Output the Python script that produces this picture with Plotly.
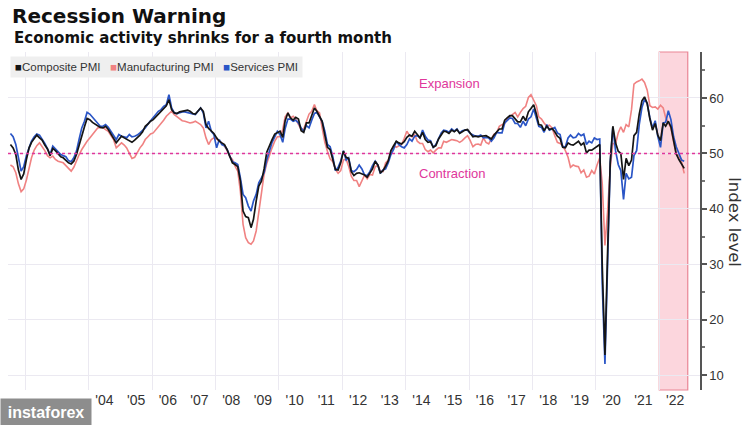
import pandas as pd
import plotly.graph_objects as go

# ---- data (monthly, Jul 2001 - Oct 2022) ----
start_month = "2001-07-01"

composite_pmi = [
    51.6, 51.0, 49.8, 47.0, 45.3, 46.3,
    48.9, 51.0, 52.0, 52.6, 53.3, 52.8, 52.4, 51.5, 50.8, 49.6, 50.9, 50.5,
    50.0, 49.4, 49.2, 48.8, 48.3, 48.1, 48.6, 49.8, 51.6, 53.2, 54.8, 56.3,
    56.1, 55.6, 55.3, 55.0, 54.7, 54.6, 54.9, 54.3, 53.4, 52.8, 51.9, 52.5,
    53.1, 52.8, 52.5, 52.2, 52.0, 52.4, 52.8, 53.3, 53.9, 54.9, 55.3, 55.8,
    56.1, 56.6, 57.2, 57.6, 58.2, 58.6, 59.7, 57.9, 57.3, 57.2, 57.5, 57.6,
    57.6, 57.8, 57.6, 57.2, 57.1, 57.6, 58.2, 57.6, 55.2, 54.5, 54.0, 53.6,
    52.8, 52.2, 51.9, 51.6, 50.7, 49.6, 48.3, 48.0, 47.6, 45.0, 39.6, 38.6,
    38.4, 36.6, 38.1, 41.4, 44.1, 45.0, 47.2, 50.2, 51.5, 52.5, 53.5, 53.8,
    54.0, 52.9, 55.9, 57.3, 56.4, 56.0, 56.5, 56.2, 54.1, 53.8, 55.5, 55.5,
    57.0, 58.2, 57.6, 56.7, 55.8, 53.3, 51.1, 50.7, 49.1, 47.1, 47.0, 48.3,
    50.4, 49.3, 49.1, 46.7, 46.0, 46.4, 46.5, 46.3, 46.1, 45.7, 46.5, 47.2,
    48.6, 47.9, 46.5, 46.9, 47.7, 48.7, 50.5, 51.5, 52.2, 51.9, 51.7, 52.1,
    52.9, 53.3, 53.1, 54.0, 53.5, 52.8, 53.8, 52.5, 52.0, 52.1, 51.1, 51.4,
    52.6, 53.3, 54.0, 53.9, 53.6, 54.2, 53.9, 54.3, 53.6, 53.9, 54.2, 54.3,
    53.6, 53.0, 53.1, 53.0, 53.1, 53.1, 53.2, 52.9, 52.6, 53.3, 53.9, 54.4,
    54.4, 56.0, 56.4, 56.8, 56.8, 56.3, 55.7, 55.7, 56.7, 55.9, 57.5, 58.1,
    58.8, 57.1, 55.2, 55.1, 54.1, 54.9, 54.3, 54.5, 53.9, 53.1, 52.7, 51.1,
    51.0, 51.9, 51.6, 51.5, 51.8, 52.2, 51.5, 51.9, 50.1, 50.6, 50.6, 50.9,
    51.3, 51.6, 29.7, 13.6, 31.9, 48.5, 54.9, 51.9, 50.4, 50.0, 45.3, 49.1,
    47.8, 48.8, 53.2, 53.8, 57.1, 59.5, 60.2, 59.0, 56.2, 54.2, 55.4, 53.3,
    52.3, 55.5, 54.9, 55.8, 54.8, 52.0, 49.9, 48.9, 48.1, 47.3,
]

manufacturing_pmi = [
    47.9, 47.6, 46.5, 44.5, 43.1, 43.6,
    45.2, 47.4, 49.2, 50.6, 51.4, 51.9, 51.3, 50.5, 49.6, 49.2, 49.5, 48.9,
    48.6, 48.5, 48.3, 47.8, 47.3, 46.8, 47.5, 48.8, 49.8, 50.7, 51.5, 52.2,
    52.8, 53.4, 54.0, 54.6, 54.7, 54.7, 54.3, 54.0, 53.2, 52.5, 51.0, 51.5,
    51.9, 51.5, 51.0, 50.0, 49.1, 49.3, 50.2, 51.0, 51.6, 52.5, 53.0, 53.5,
    53.7, 54.3, 54.8, 55.3, 56.0, 56.7, 57.2, 57.6, 57.0, 56.6, 56.2, 55.9,
    55.8, 55.6, 55.5, 55.6, 55.8, 55.5, 55.2, 54.6, 52.8, 51.6, 52.5, 52.8,
    52.6, 52.2, 51.9, 51.3, 50.5, 49.4, 48.9, 47.7, 46.8, 43.2, 37.2, 34.8,
    33.9, 33.6, 34.2, 36.0, 39.6, 43.2, 46.2, 48.2, 49.8, 51.0, 52.2, 53.0,
    53.0, 54.3, 56.6, 57.3, 56.4, 56.7, 56.2, 55.3, 54.3, 54.4, 55.6, 57.1,
    57.6, 58.8, 57.7, 57.3, 54.6, 52.0, 50.4, 49.0, 48.5, 47.1, 46.4, 46.9,
    48.8, 49.0, 47.7, 45.9, 45.1, 45.1, 44.0, 45.1, 46.1, 45.4, 46.2, 46.1,
    47.6, 47.9, 46.8, 46.7, 48.3, 48.8, 50.3, 51.4, 51.1, 51.3, 51.6, 52.7,
    54.0, 53.2, 53.0, 53.4, 52.2, 51.8, 51.8, 50.7, 50.3, 50.6, 50.1, 50.6,
    51.0, 51.0, 52.2, 52.0, 52.2, 52.5, 52.4, 52.3, 52.0, 52.3, 52.8, 53.2,
    52.3, 51.2, 51.6, 51.7, 51.5, 52.8, 52.0, 51.7, 52.6, 53.5, 53.7, 54.9,
    55.2, 55.4, 56.2, 56.7, 57.0, 57.4, 56.6, 57.4, 58.1, 58.5, 60.1, 60.6,
    59.6, 58.6, 56.6, 56.2, 55.5, 54.9, 55.1, 54.6, 53.2, 52.0, 51.8, 51.4,
    50.5, 49.3, 47.5, 47.9, 47.7, 47.6, 46.5, 47.0, 45.7, 45.9, 46.9, 46.3,
    47.9, 49.2, 44.5, 33.4, 39.4, 47.4, 51.8, 51.7, 53.7, 54.8, 53.8, 55.2,
    54.8, 57.9, 62.5, 62.9, 63.1, 63.4, 62.8, 61.4, 58.6, 58.3, 58.4, 58.0,
    58.7, 58.2, 56.5, 55.5, 54.6, 52.1, 49.8, 49.6, 48.4, 46.4,
]

services_pmi = [
    53.6, 53.0, 51.6, 49.0, 46.8, 47.6,
    49.6, 51.0, 52.2, 53.0, 53.5, 53.3, 52.6, 51.8, 50.8, 49.8, 51.3, 50.8,
    50.2, 49.8, 49.6, 49.4, 48.7, 48.5, 49.2, 50.4, 52.6, 54.6, 55.8, 57.4,
    57.1, 56.5, 56.0, 55.5, 54.9, 54.9, 55.2, 54.7, 54.0, 53.2, 52.5, 53.4,
    53.1, 53.0, 52.8, 53.4, 53.0, 53.1, 53.3, 53.7, 54.1, 54.6, 55.3, 55.9,
    56.4, 57.0, 57.6, 57.9, 58.5, 58.8, 60.6, 58.2, 57.3, 57.2, 57.4, 57.5,
    57.5, 57.4, 57.3, 57.1, 57.0, 57.6, 58.2, 57.3, 54.6, 55.8, 54.0, 53.4,
    51.0, 52.5, 51.6, 51.4, 50.7, 49.5, 48.5, 48.3, 48.0, 45.6, 42.6, 42.0,
    40.5, 39.6, 41.4, 42.6, 44.7, 45.6, 46.5, 48.8, 50.4, 52.0, 53.0, 54.0,
    53.4, 52.0, 54.5, 56.2, 56.2, 55.8, 56.0, 55.5, 54.6, 54.0, 55.0, 54.6,
    56.0, 57.2, 57.4, 56.6, 55.8, 54.0, 51.6, 51.2, 49.4, 46.9, 47.5, 48.6,
    50.5, 48.8, 49.2, 46.9, 46.7, 47.1, 47.9, 47.2, 46.1, 46.0, 46.7, 47.8,
    48.6, 47.9, 46.4, 47.0, 47.2, 48.3, 49.8, 50.7, 52.2, 51.6, 51.2, 51.0,
    51.6, 52.6, 52.2, 53.1, 53.2, 52.8, 54.2, 53.1, 52.4, 52.3, 51.1, 51.6,
    52.7, 53.7, 54.2, 54.1, 53.8, 54.4, 54.0, 54.4, 53.7, 54.1, 54.2, 54.2,
    53.6, 53.3, 53.1, 53.1, 53.3, 52.8, 52.9, 52.8, 52.2, 52.8, 53.8, 53.7,
    53.7, 55.5, 56.0, 56.4, 56.3, 55.4, 55.4, 54.7, 55.8, 55.0, 56.2, 56.6,
    58.0, 56.2, 54.9, 54.7, 53.8, 55.2, 54.2, 54.4, 54.7, 53.7, 53.4, 51.2,
    51.2, 52.8, 53.3, 52.8, 52.9, 53.6, 53.2, 53.5, 51.6, 52.2, 51.9, 52.8,
    52.5, 52.6, 26.4, 12.0, 30.5, 48.3, 54.7, 50.5, 48.0, 46.9, 41.7, 46.4,
    45.4, 45.7, 49.6, 50.5, 55.2, 58.3, 59.8, 59.0, 56.4, 54.6, 55.9, 53.1,
    51.1, 55.5, 55.6, 57.7, 56.1, 53.0, 51.2, 49.8, 48.8, 48.6,
]

year_labels = ["'04", "'05", "'06", "'07", "'08", "'09", "'10", "'11", "'12", "'13",
               "'14", "'15", "'16", "'17", "'18", "'19", "'20", "'21", "'22"]
label_years = list(range(2004, 2023))
y_ticks = [10, 20, 30, 40, 50, 60]
threshold = 50
highlight_start = "2022-01-01"
highlight_end = "2022-11-25"

dates = pd.date_range(start_month, periods=len(composite_pmi), freq="MS") + pd.Timedelta(days=14)

C_COMP = "#151515"
C_MANU = "#f08282"
C_SERV = "#2a55c6"
MAGENTA = "#e0379b"
GRID = "#ebe9f1"
FONT = "Liberation Sans"

fig = go.Figure()

# highlight band
fig.add_vrect(x0=highlight_start, x1=highlight_end, fillcolor="#fcd6dd", opacity=1,
              line=dict(color="#e98595", width=1.2), layer="below")

fig.add_trace(go.Scatter(x=dates, y=manufacturing_pmi, mode="lines", name="Manufacturing PMI",
                         line=dict(color=C_MANU, width=1.6), showlegend=False))
fig.add_trace(go.Scatter(x=dates, y=services_pmi, mode="lines", name="Services PMI",
                         line=dict(color=C_SERV, width=1.7), showlegend=False))
fig.add_trace(go.Scatter(x=dates, y=composite_pmi, mode="lines", name="Composite PMI",
                         line=dict(color=C_COMP, width=1.7), showlegend=False))

fig.add_hline(y=threshold, line=dict(color=MAGENTA, width=1.5, dash="dot"), layer="above")

tickvals = [f"{y}-07-02" for y in label_years]

fig.update_layout(
    width=750, height=425,
    margin=dict(l=8, r=50, t=52, b=35),
    paper_bgcolor="white", plot_bgcolor="white",
    font=dict(family=FONT, color="#333"),
    showlegend=False,
    title=dict(text="<b>Recession Warning</b>", x=12 / 750, xanchor="left", xref="container",
               y=1 - 16 / 425, yanchor="middle", yref="container",
               font=dict(family="DejaVu Sans", size=20, color="#111")),
    xaxis=dict(range=["2001-06-17", "2023-04-15"], tickvals=tickvals, ticktext=year_labels,
               showgrid=False, zeroline=False, showline=False, ticks="",
               tickfont=dict(size=14, color="#333", family=FONT),
               minor=dict(tick0="2002-01-01", dtick="M24", showgrid=True, gridcolor=GRID,
                          gridwidth=1, ticks="")),
    yaxis=dict(range=[7.3, 68.3], side="right", tickvals=y_ticks, showgrid=True, gridcolor=GRID,
               gridwidth=1, zeroline=False, showline=True, linecolor="#555", linewidth=1.5,
               ticks="outside", ticklen=5, tickcolor="#555", tickwidth=1.5,
               ticklabelposition="outside",
               tickfont=dict(size=13, color="#333", family=FONT),
               minor=dict(dtick=5, tick0=0, ticks="outside", ticklen=3, tickcolor="#777",
                          showgrid=False)),
)

# subtitle
fig.add_annotation(text="<b>Economic activity shrinks for a fourth month</b>", xref="paper", yref="paper",
                   x=(12 - 8) / 692, y=(390 - 38) / 338, xanchor="left", yanchor="middle",
                   showarrow=False, font=dict(family="DejaVu Sans", size=15, color="#111"))

# legend (boxed)
legend_html = (f"<span style='color:{C_COMP}'>■</span>Composite PMI   "
               f"<span style='color:{C_MANU}'>■</span>Manufacturing PMI   "
               f"<span style='color:{C_SERV}'>■</span>Services PMI")
fig.add_annotation(text=legend_html, xref="paper", yref="paper", x=(10 - 8) / 692,
                   y=(390 - 67) / 338, xanchor="left", yanchor="middle", showarrow=False,
                   bgcolor="#efefef", borderpad=4, font=dict(family=FONT, size=11.5, color="#333"))

# region labels
fig.add_annotation(text="Expansion", xref="paper", yref="y", x=(417 - 8) / 692, y=62.6,
                   xanchor="left", yanchor="middle", showarrow=False,
                   font=dict(family=FONT, size=13, color=MAGENTA))
fig.add_annotation(text="Contraction", xref="paper", yref="y", x=(417 - 8) / 692, y=46.4,
                   xanchor="left", yanchor="middle", showarrow=False,
                   font=dict(family=FONT, size=13, color=MAGENTA))

# axis title on the right, reading top to bottom
fig.add_annotation(text="Index level", xref="paper", yref="paper", x=1, xshift=35,
                   y=(390 - 222) / 338, xanchor="center", yanchor="middle", textangle=90,
                   showarrow=False, font=dict(family="DejaVu Sans", size=16.5, color="#333"))

# watermark box at bottom-left
fig.add_annotation(text="<b>instaforex</b>", xref="paper", yref="paper", x=(0 - 8) / 692,
                   y=(390 - 412) / 338, xanchor="left", yanchor="middle", showarrow=False,
                   width=84, height=20, align="center",
                   bgcolor="#8d8d8d", borderpad=3, font=dict(family=FONT, size=16, color="white"))

fig.write_html("out.html", config={"displayModeBar": False},
               post_script="document.body.style.margin='0';document.body.style.overflow='hidden';")
